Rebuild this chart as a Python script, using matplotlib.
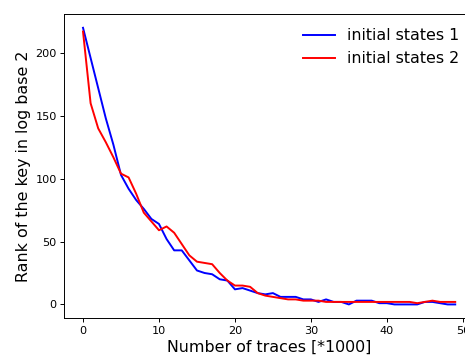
import matplotlib
matplotlib.use("Agg")
import matplotlib.pyplot as plt

# x axis: number of traces (in thousands)
traces = list(range(50))

# rank of the key (log2) for both initial states
rank_init1 = [220, 196, 172, 148, 127, 103, 92, 83, 76, 68,
              64, 52, 43, 43, 35, 27, 25, 24, 20, 19,
              12, 13, 11, 9, 8, 9, 6, 6, 6, 4,
              4, 2, 4, 2, 2, 0, 3, 3, 3, 1,
              1, 0, 0, 0, 0, 2, 2, 1, 0, 0]
rank_init2 = [217, 160, 140, 129, 117, 104, 101, 88, 73, 66,
              59, 62, 57, 48, 39, 34, 33, 32, 25, 19,
              15, 15, 14, 9, 7, 6, 5, 4, 4, 3,
              3, 3, 2, 2, 2, 2, 2, 2, 2, 2,
              2, 2, 2, 2, 1, 2, 3, 2, 2, 2]

fig = plt.figure(figsize=(4.65, 3.58), dpi=100)
# the original figure is cropped on the right side
ax = fig.add_axes([0.1385, 0.111, 1.019 - 0.1385, 0.961 - 0.111])

ax.plot(traces, rank_init1, color='blue', linewidth=1.4, label='initial states 1')
ax.plot(traces, rank_init2, color='red', linewidth=1.4, label='initial states 2')

ax.set_xlabel("Number of traces [*1000]", fontsize=11.4, labelpad=3)
ax.set_ylabel("Rank of the key in log base 2", fontsize=11.4, labelpad=3)
ax.tick_params(labelsize=8.1, length=2.8, width=0.7, pad=2.8)
for sp in ax.spines.values():
    sp.set_linewidth(0.7)
ax.legend(loc='upper right', frameon=False, fontsize=11.4)

plt.savefig("out.png", dpi=100)
